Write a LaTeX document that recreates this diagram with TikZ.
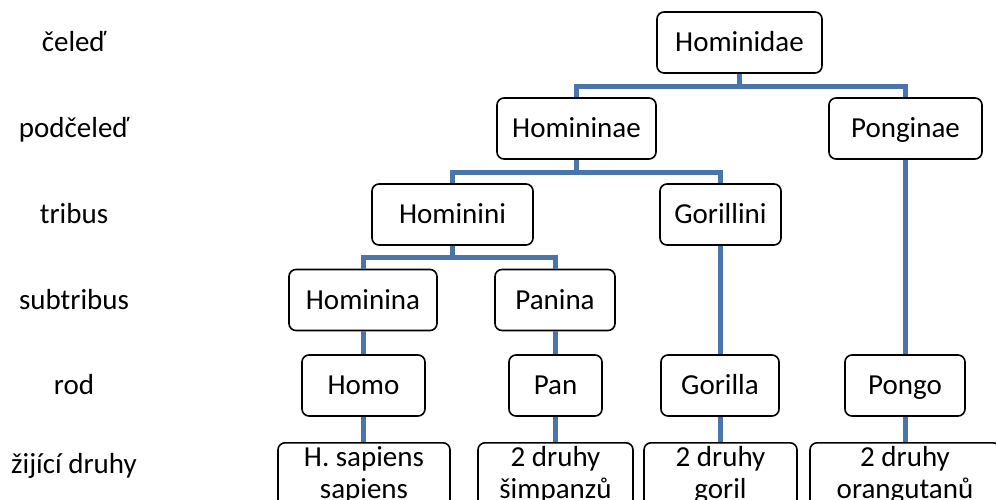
\documentclass[tikz,border=0pt]{standalone}
\usepackage{fontspec}
\setmainfont{Carlito}
\usetikzlibrary{positioning,calc}
\definecolor{modra}{RGB}{74,117,170}
\tikzset{
  ram/.style={draw,line width=1.6pt,rounded corners=7pt,fill=white,minimum height=61pt,
    text height=22pt,text depth=3.5pt,inner sep=0pt},
  druh/.style={draw,line width=1.6pt,rounded corners=7pt,fill=white,anchor=north,
    align=center,inner xsep=0pt,inner ysep=1pt},
  spoj/.style={draw=modra,line width=5pt},
  urov/.style={text height=22pt,text depth=3.5pt,inner sep=0pt},
}

\begin{document}
\begin{tikzpicture}[x=1pt,y=-1pt,font=\fontsize{29}{32}\selectfont]
  \useasboundingbox (0,0) rectangle (996,499);
  % urovne
  \node[urov] (u1) at (74,42.5) {čeleď};
  \node[urov] (u2) at (74,128.5) {podčeleď};
  \node[urov] (u3) at (74,214.5) {tribus};
  \node[urov] (u4) at (74,300) {subtribus};
  \node[urov] (u5) at (74,385.5) {rod};
  \node[anchor=base,inner sep=0pt] (u6) at (74,473) {žijící druhy};
  % strom
  \node[ram,minimum width=165pt] (hd) at (739.5,42.5) {Hominidae};
  \node[ram,minimum width=159pt] (hn) at (576.5,128.5) {Homininae};
  \node[ram,minimum width=153pt] (pg) at (905.5,128.5) {Ponginae};
  \node[ram,minimum width=161pt] (hi) at (452.5,214.5) {Hominini};
  \node[ram,minimum width=121pt] (go) at (720.5,214.5) {Gorillini};
  \node[ram,minimum width=148pt] (ha) at (363,300) {Hominina};
  \node[ram,minimum width=120pt] (pa) at (555,300) {Panina};
  \node[ram,minimum width=123pt] (homo) at (363.5,385.5) {Homo};
  \node[ram,minimum width=93pt] (pan) at (555.5,385.5) {Pan};
  \node[ram,minimum width=118pt] (gor) at (720,385.5) {Gorilla};
  \node[ram,minimum width=120pt] (pong) at (905,385.5) {Pongo};
  \node[druh,minimum width=172pt] (d1) at (364,442) {\strut H. sapiens\\sapiens\strut};
  \node[druh,minimum width=155pt] (d2) at (555.5,442) {\strut 2 druhy\\šimpanzů\strut};
  \node[druh,minimum width=153pt] (d3) at (720.5,442) {\strut 2 druhy\\goril\strut};
  \node[druh,minimum width=190pt] (d4) at (905,442) {\strut 2 druhy\\orangutanů\strut};
  % spoje
  \draw[spoj] (hd.south) -- ++(0,12.5) -| (hn.north);
  \draw[spoj] (hd.south) -- ++(0,12.5) -| (pg.north);
  \draw[spoj] (hn.south) -- ++(0,12.5) -| (hi.north);
  \draw[spoj] (hn.south) -- ++(0,12.5) -| (go.north);
  \draw[spoj] (hi.south) -- ++(0,12) -| (ha.north);
  \draw[spoj] (hi.south) -- ++(0,12) -| (pa.north);
  \draw[spoj] (pg.south) -- (pg.south |- pong.north);
  \draw[spoj] (go.south) -- (go.south |- gor.north);
  \draw[spoj] (ha.south) -- (ha.south |- homo.north);
  \draw[spoj] (pa.south) -- (pa.south |- pan.north);
  \draw[spoj] (homo.south) -- (homo.south |- d1.north);
  \draw[spoj] (pan.south) -- (pan.south |- d2.north);
  \draw[spoj] (gor.south) -- (gor.south |- d3.north);
  \draw[spoj] (pong.south) -- (pong.south |- d4.north);
\end{tikzpicture}
\end{document}
